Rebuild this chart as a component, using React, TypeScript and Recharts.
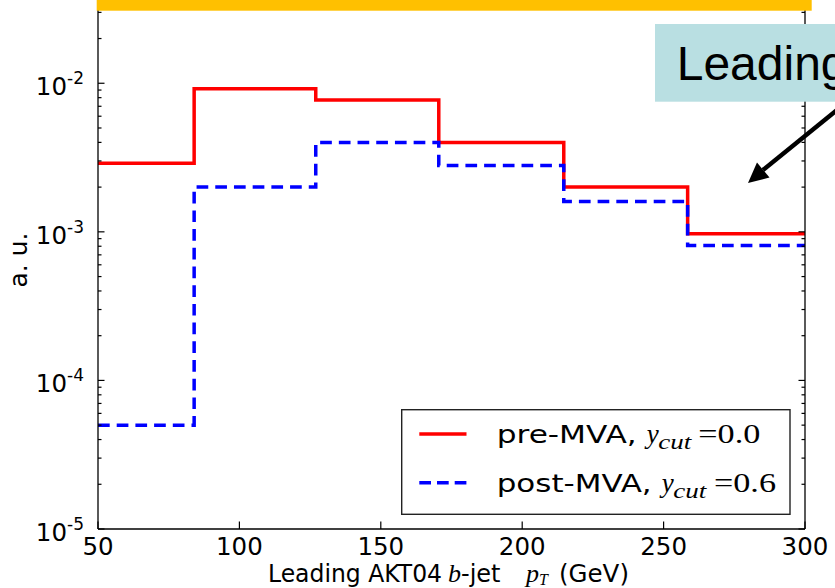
import React from "react";
import { LineChart, Line, XAxis, YAxis, Legend } from "recharts";

// bin edges of the leading b-jet pT histogram (GeV)
const binEdges = [50, 84, 127, 170.5, 214.7, 258.5, 300];
const preMva = [2.9e-3, 9.2e-3, 7.7e-3, 4.0e-3, 2.0e-3, 9.7e-4];
const postMva = [5.0e-5, 2.0e-3, 4.0e-3, 2.8e-3, 1.6e-3, 8.1e-4];
const seriesNames = ["pre-MVA,", "post-MVA,"];
const ycutValues = ["=0.0", "=0.6"];

const xTicks = [50, 100, 150, 200, 250, 300];
const yDecades = [1e-5, 1e-4, 1e-3, 1e-2];
const yMinorSteps = [2, 3, 4, 5, 6, 7, 8, 9];
const yMax = 0.0321;

const yTicks = yDecades
  .flatMap((d) => [d, ...yMinorSteps.map((m) => m * d)])
  .filter((v) => v <= 0.0305);

// step-after rows: last edge repeats the last bin
const data = binEdges.map((x, i) => ({
  x,
  pre: preMva[Math.min(i, preMva.length - 1)],
  post: postMva[Math.min(i, postMva.length - 1)],
}));

const SANS = "'DejaVu Sans', sans-serif";
const SERIF = "'Liberation Serif', 'DejaVu Serif', serif";

const isMajor = (v: number) =>
  Math.abs(Math.log10(v) - Math.round(Math.log10(v))) < 1e-6;

function LeftTick(props: any) {
  const { x, y, payload } = props;
  const v = payload.value as number;
  const major = isMajor(v);
  return (
    <g>
      <line x1={x} x2={x + (major ? 6.5 : 3.5)} y1={y} y2={y} stroke="#000" strokeWidth={1.2} />
      {major && (
        <text x={x - 14} y={y + 12} textAnchor="end" fontFamily={SANS} fontSize={24.5} fill="#000">
          <tspan>10</tspan>
          <tspan dy={-11} fontSize={17}>{`-${-Math.round(Math.log10(v))}`}</tspan>
        </text>
      )}
    </g>
  );
}

function RightTick(props: any) {
  const { x, y, payload } = props;
  const major = isMajor(payload.value);
  return <line x1={x} x2={x - (major ? 6.5 : 3.5)} y1={y} y2={y} stroke="#000" strokeWidth={1.2} />;
}

function BottomTick(props: any) {
  const { x, y, payload } = props;
  return (
    <g>
      <line x1={x} x2={x} y1={y} y2={y - 7.5} stroke="#000" strokeWidth={1.2} />
      <text x={x} y={y + 26} textAnchor="middle" fontFamily={SANS} fontSize={24.5} fill="#000">
        {payload.value}
      </text>
    </g>
  );
}

function LegendBox() {
  const rows = [
    { color: "#ff0000", dash: undefined, y: 25, base: 34.3, nameLen: 140, yX: 245.7, cutX: 257.3, eqX: 297.3 },
    { color: "#0000ff", dash: "11.7 6", y: 73.7, base: 82.7, nameLen: 155, yX: 260.7, cutX: 272.3, eqX: 313 },
  ];
  return (
    <svg width={390} height={106}>
      <rect x={0.7} y={0.7} width={388.3} height={104.6} fill="#fff" stroke="#222" strokeWidth={1.4} />
      {rows.map((r, i) => (
        <g key={i}>
          <line x1={18.3} x2={65.5} y1={r.y} y2={r.y} stroke={r.color} strokeWidth={3.5} strokeDasharray={r.dash} />
          <text x={95.7} y={r.base} fontFamily={SANS} fontSize={25.5} textLength={r.nameLen} lengthAdjust="spacingAndGlyphs">
            {seriesNames[i]}
          </text>
          <text x={r.yX} y={r.base} fontFamily={SERIF} fontStyle="italic" fontSize={27}>y</text>
          <text x={r.cutX} y={r.base + 6} fontFamily={SERIF} fontStyle="italic" fontSize={20} textLength={33} lengthAdjust="spacingAndGlyphs">
            cut
          </text>
          <text x={r.eqX} y={r.base} fontFamily={SERIF} fontSize={27} textLength={62} lengthAdjust="spacingAndGlyphs">
            {ycutValues[i]}
          </text>
        </g>
      ))}
    </svg>
  );
}

export default function App() {
  return (
    <div style={{ position: "absolute", left: 0, top: 0, width: 835, height: 588, overflow: "hidden", background: "#fff" }}>
      <LineChart width={835} height={588} data={data} margin={{ top: 8, right: 0, bottom: 0, left: 0 }}>
        <XAxis
          dataKey="x"
          type="number"
          domain={[50, 300]}
          allowDataOverflow
          ticks={xTicks}
          interval={0}
          height={59}
          tickSize={0}
          tickMargin={0}
          tickLine={false}
          axisLine={{ stroke: "#000", strokeWidth: 1.3 }}
          tick={<BottomTick />}
        />
        <YAxis
          yAxisId="l"
          scale="log"
          type="number"
          domain={[1e-5, yMax]}
          allowDataOverflow
          ticks={yTicks}
          interval={0}
          width={98}
          tickSize={0}
          tickMargin={0}
          tickLine={false}
          axisLine={{ stroke: "#000", strokeWidth: 1.3 }}
          tick={<LeftTick />}
        />
        <YAxis
          yAxisId="r"
          orientation="right"
          scale="log"
          type="number"
          domain={[1e-5, yMax]}
          allowDataOverflow
          ticks={yTicks}
          interval={0}
          width={30}
          tickSize={0}
          tickMargin={0}
          tickLine={false}
          axisLine={{ stroke: "#000", strokeWidth: 1.3 }}
          tick={<RightTick />}
        />
        <Line
          yAxisId="l"
          type="stepAfter"
          dataKey="pre"
          stroke="#ff0000"
          strokeWidth={3.5}
          dot={false}
          isAnimationActive={false}
        />
        <Line
          yAxisId="r"
          type="stepAfter"
          dataKey="post"
          stroke="#0000ff"
          strokeWidth={3.5}
          strokeDasharray="11.7 7"
          dot={false}
          isAnimationActive={false}
        />
        <Legend
          layout="horizontal"
          verticalAlign="middle"
          align="center"
          content={<LegendBox />}
          wrapperStyle={{ position: "absolute", left: 401, top: 409, width: 390, height: 106 }}
        />
      </LineChart>

      <svg
        width={835}
        height={588}
        style={{ position: "absolute", left: 0, top: 0, pointerEvents: "none" }}
      >
        {/* axis labels */}
        <text fontFamily={SANS} fontSize={24} y={582} fill="#000">
          <tspan x={268} textLength={174} lengthAdjust="spacingAndGlyphs">Leading AKT04</tspan>
          <tspan x={448} fontFamily={SERIF} fontStyle="italic" fontSize={26}>b</tspan>
          <tspan x={461}>-jet</tspan>
          <tspan x={526} fontFamily={SERIF} fontStyle="italic" fontSize={26}>p</tspan>
          <tspan x={539} dy={3} fontFamily={SERIF} fontStyle="italic" fontSize={16}>T</tspan>
          <tspan x={559} dy={-3} fontSize={24.5}>(GeV)</tspan>
        </text>
        <text
          transform="translate(27,260) rotate(-90)"
          textAnchor="middle"
          fontFamily={SANS}
          fontSize={25}
          fill="#000"
        >
          a. u.
        </text>

        {/* slide decorations */}
        <rect x={96.7} y={0} width={715} height={10.7} fill="#ffc000" />
        <rect x={655} y={24} width={200} height={77.7} fill="#b9dfe2" />
        <text x={676.7} y={80} fontFamily="'Liberation Sans', Arial, sans-serif" fontSize={48} fill="#000">
          Leading
        </text>
        <line x1={842} y1={106} x2={763} y2={170} stroke="#000" strokeWidth={4.5} />
        <polygon points="748,183 769.5,177.5 757,162.5" fill="#000" />
      </svg>
    </div>
  );
}
